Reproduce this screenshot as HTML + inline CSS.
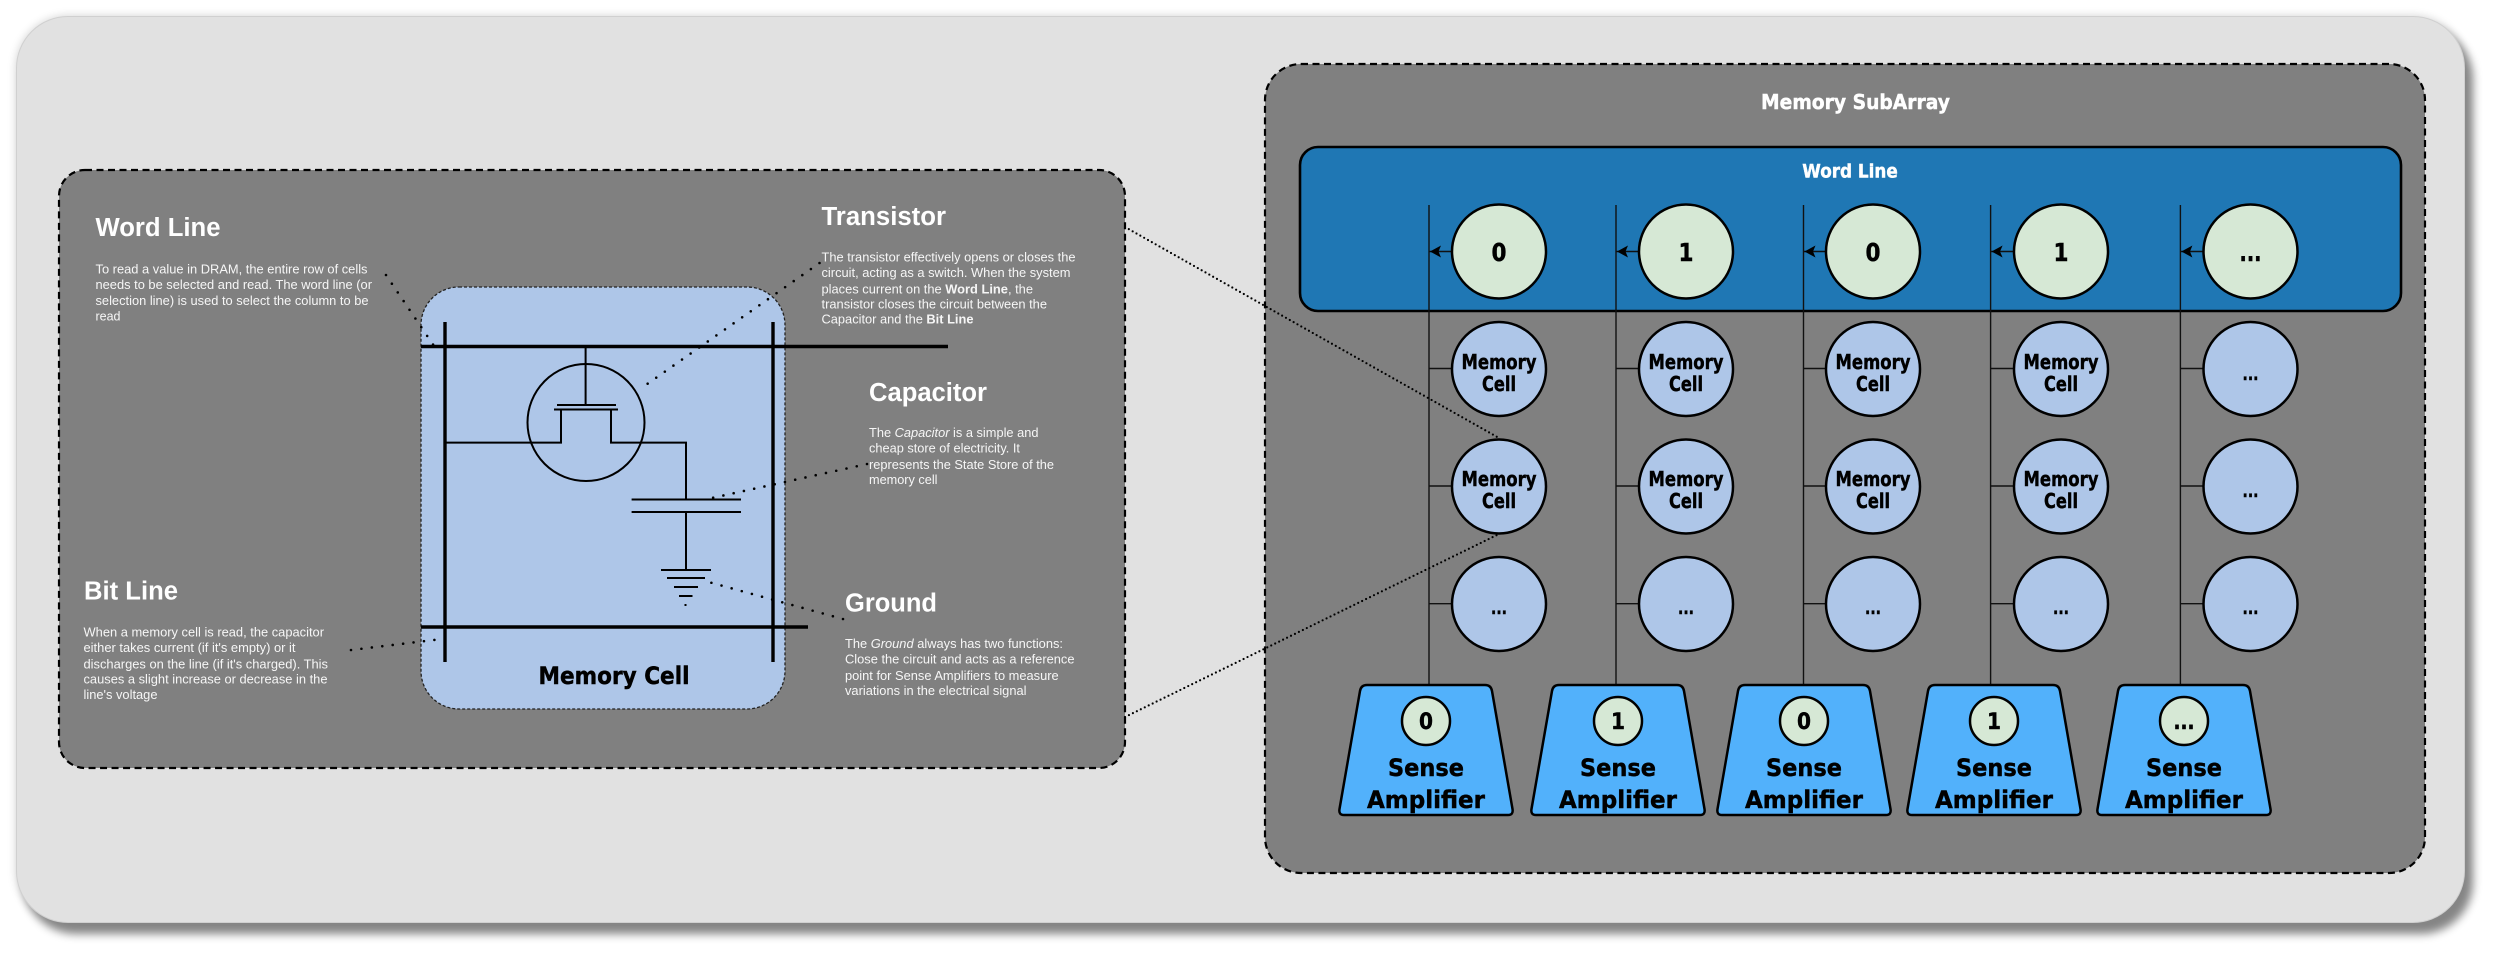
<!DOCTYPE html>
<html><head><meta charset="utf-8"><style>
html,body{margin:0;padding:0;background:#fff;width:2500px;height:957px;overflow:hidden}
#o{position:absolute;left:16px;top:16px;width:2447px;height:905px;border-radius:52px;background:#e1e1e1;border:1px solid #d0d0d0;box-sizing:content-box;box-shadow:8px 11px 9px #858585,0 0 9px rgba(0,0,0,.18)}
svg{position:absolute;left:0;top:0}
.t{font:bold 25.5px "Liberation Sans",sans-serif;fill:#fff}
.b{font:13px "Liberation Sans",sans-serif;fill:#f6f6f6}
.d{font-family:"DejaVu Sans",sans-serif;font-weight:bold;fill:#000;text-anchor:middle;stroke:#000;stroke-width:.45}
.d.w{fill:#fff;stroke:#fff}
.m{font-size:20px}.n{font-size:25px}.e{font-size:18px}.s{font-size:22px}.a{font-size:24px}
.c{fill:#aec6e8;stroke:#000;stroke-width:2.5}
.g{fill:#d6e8d5;stroke:#000;stroke-width:2.5}
.l{stroke:#000;fill:none}
.h{stroke:#111;stroke-width:1.4;fill:none}
.p{stroke:#000;fill:none;stroke-width:2.6;stroke-dasharray:0 10.5;stroke-linecap:round}
.q{stroke:#000;fill:none;stroke-width:2.2;stroke-dasharray:0 4.4;stroke-linecap:round}
.tz{fill:#52b1fb;stroke:#000;stroke-width:2.5}
</style></head><body><div id="o"></div>
<svg width="2500" height="957" viewBox="0 0 2500 957" xmlns="http://www.w3.org/2000/svg">
<!-- left panel -->
<rect x="59" y="170" width="1066" height="598" rx="26" fill="#808080" stroke="#000" stroke-width="2.2" stroke-dasharray="7 4.5"/>
<rect x="421" y="287" width="364" height="422" rx="38" fill="#aec6e8" stroke="#222" stroke-width="1.3" stroke-dasharray="3 2"/>
<g class="l">
<path d="M421 346.5H948M421 627H808" stroke-width="3.4"/>
<path d="M445 322V662M773 322V662" stroke-width="3.4"/>
<circle cx="586" cy="422.5" r="58.5" stroke-width="2"/>
<path d="M585.6 346V405M557 405H616M554 409.5H618M445 442.6H561V409.5M611 409.5V442.6H686V499.5M686 512V570" stroke-width="2"/>
<path d="M631.6 499.5H741M631.6 512H741M661 570H711M667 578H705M674 587H698M679 596H692.5M684.5 605H686.5" stroke-width="2"/>
</g>
<path class="p" d="M386 275L434 346"/>
<path class="p" d="M351 650L437 639.6"/>
<path class="p" d="M819.5 263L641.5 388"/>
<path class="p" d="M867 464L709 498.6"/>
<path class="p" d="M843 619L705 581"/>
<text class="d" x="614" y="684" font-size="24" textLength="151" lengthAdjust="spacingAndGlyphs">Memory Cell</text>

<text class="t" x="95.5" y="236" textLength="125" lengthAdjust="spacingAndGlyphs">Word Line</text>
<text class="b" x="95.5" y="273.5" textLength="272" lengthAdjust="spacingAndGlyphs">To read a value in DRAM, the entire row of cells</text>
<text class="b" x="95.5" y="288.8" textLength="276.5" lengthAdjust="spacingAndGlyphs">needs to be selected and read. The word line (or</text>
<text class="b" x="95.5" y="305" textLength="273" lengthAdjust="spacingAndGlyphs">selection line) is used to select the column to be</text>
<text class="b" x="95.5" y="320.3" textLength="25" lengthAdjust="spacingAndGlyphs">read</text>

<text class="t" x="84" y="599.4" textLength="94" lengthAdjust="spacingAndGlyphs">Bit Line</text>
<text class="b" x="83.5" y="636.7" textLength="240.5" lengthAdjust="spacingAndGlyphs">When a memory cell is read, the capacitor</text>
<text class="b" x="83.5" y="652" textLength="212" lengthAdjust="spacingAndGlyphs">either takes current (if it's empty) or it</text>
<text class="b" x="83.5" y="668.5" textLength="244.5" lengthAdjust="spacingAndGlyphs">discharges on the line (if it's charged). This</text>
<text class="b" x="83.5" y="683.5" textLength="244" lengthAdjust="spacingAndGlyphs">causes a slight increase or decrease in the</text>
<text class="b" x="83.5" y="699" textLength="74" lengthAdjust="spacingAndGlyphs">line's voltage</text>

<text class="t" x="821.5" y="225" textLength="124.5" lengthAdjust="spacingAndGlyphs">Transistor</text>
<text class="b" x="821.5" y="261.5" textLength="254" lengthAdjust="spacingAndGlyphs">The transistor effectively opens or closes the</text>
<text class="b" x="821.5" y="277" textLength="249" lengthAdjust="spacingAndGlyphs">circuit, acting as a switch. When the system</text>
<text class="b" x="821.5" y="293.4" textLength="211.5" lengthAdjust="spacingAndGlyphs">places current on the <tspan font-weight="bold">Word Line</tspan>, the</text>
<text class="b" x="821.5" y="308.5" textLength="225.5" lengthAdjust="spacingAndGlyphs">transistor closes the circuit between the</text>
<text class="b" x="821.5" y="323.7" textLength="152" lengthAdjust="spacingAndGlyphs">Capacitor and the <tspan font-weight="bold">Bit Line</tspan></text>

<text class="t" x="869" y="400.8" textLength="118" lengthAdjust="spacingAndGlyphs">Capacitor</text>
<text class="b" x="869" y="437" textLength="169.5" lengthAdjust="spacingAndGlyphs">The <tspan font-style="italic">Capacitor</tspan> is a simple and</text>
<text class="b" x="869" y="452.6" textLength="151" lengthAdjust="spacingAndGlyphs">cheap store of electricity. It</text>
<text class="b" x="869" y="468.8" textLength="185" lengthAdjust="spacingAndGlyphs">represents the State Store of the</text>
<text class="b" x="869" y="484" textLength="68.5" lengthAdjust="spacingAndGlyphs">memory cell</text>

<text class="t" x="845" y="611.4" textLength="92" lengthAdjust="spacingAndGlyphs">Ground</text>
<text class="b" x="845" y="648" textLength="218" lengthAdjust="spacingAndGlyphs">The <tspan font-style="italic">Ground</tspan> always has two functions:</text>
<text class="b" x="845" y="663.6" textLength="229.5" lengthAdjust="spacingAndGlyphs">Close the circuit and acts as a reference</text>
<text class="b" x="845" y="680" textLength="213.7" lengthAdjust="spacingAndGlyphs">point for Sense Amplifiers to measure</text>
<text class="b" x="845" y="695" textLength="181.5" lengthAdjust="spacingAndGlyphs">variations in the electrical signal</text>

<!-- right panel -->
<rect x="1265" y="64" width="1160" height="809" rx="36" fill="#808080" stroke="#000" stroke-width="2.2" stroke-dasharray="7 4.5"/>
<text class="d w" x="1855.5" y="109" font-size="20" textLength="189" lengthAdjust="spacingAndGlyphs">Memory SubArray</text>
<rect x="1300" y="147" width="1101" height="164" rx="18" fill="#1f77b4" stroke="#000" stroke-width="2.6"/>
<text class="d w" x="1850" y="177.7" font-size="19" textLength="95.5" lengthAdjust="spacingAndGlyphs">Word Line</text>

<g class="h">
<path d="M1429 205V685M1616 205V685M1803.5 205V685M1990.6 205V685M2180.4 205V685"/>
<path d="M1429 251.5H1452M1616 251.5H1639M1803.5 251.5H1826M1990.6 251.5H2014M2180.4 251.5H2204"/>
<path d="M1429 368.5H1452M1616 368.5H1639M1803.5 368.5H1826M1990.6 368.5H2014M2180.4 368.5H2204"/>
<path d="M1429 486H1452M1616 486H1639M1803.5 486H1826M1990.6 486H2014M2180.4 486H2204"/>
<path d="M1429 603.7H1452M1616 603.7H1639M1803.5 603.7H1826M1990.6 603.7H2014M2180.4 603.7H2204"/>
</g>
<path d="M1430 251.5L1441 245.5L1438.5 251.5L1441 257.5ZM1617 251.5L1628 245.5L1625.5 251.5L1628 257.5ZM1804.5 251.5L1815.5 245.5L1813 251.5L1815.5 257.5ZM1991.6 251.5L2002.6 245.5L2000 251.5L2002.6 257.5ZM2181.4 251.5L2192.4 245.5L2190 251.5L2192.4 257.5Z" fill="#000"/>

<!-- column 1 -->
<g transform="translate(1499 0)">
<circle class="g" cy="251.5" r="47"/><text class="d n" y="261" textLength="15" lengthAdjust="spacingAndGlyphs">0</text>
<circle class="c" cy="369" r="47"/><text class="d m" y="369" textLength="75" lengthAdjust="spacingAndGlyphs">Memory</text><text class="d m" y="391" textLength="34" lengthAdjust="spacingAndGlyphs">Cell</text>
<circle class="c" cy="486.5" r="47"/><text class="d m" y="486" textLength="75" lengthAdjust="spacingAndGlyphs">Memory</text><text class="d m" y="508" textLength="34" lengthAdjust="spacingAndGlyphs">Cell</text>
<circle class="c" cy="604" r="47"/><text class="d e" y="614" textLength="16" lengthAdjust="spacingAndGlyphs">...</text>
</g>
<!-- column 2 -->
<g transform="translate(1686 0)">
<circle class="g" cy="251.5" r="47"/><text class="d n" y="261" textLength="15" lengthAdjust="spacingAndGlyphs">1</text>
<circle class="c" cy="369" r="47"/><text class="d m" y="369" textLength="75" lengthAdjust="spacingAndGlyphs">Memory</text><text class="d m" y="391" textLength="34" lengthAdjust="spacingAndGlyphs">Cell</text>
<circle class="c" cy="486.5" r="47"/><text class="d m" y="486" textLength="75" lengthAdjust="spacingAndGlyphs">Memory</text><text class="d m" y="508" textLength="34" lengthAdjust="spacingAndGlyphs">Cell</text>
<circle class="c" cy="604" r="47"/><text class="d e" y="614" textLength="16" lengthAdjust="spacingAndGlyphs">...</text>
</g>
<!-- column 3 -->
<g transform="translate(1873 0)">
<circle class="g" cy="251.5" r="47"/><text class="d n" y="261" textLength="15" lengthAdjust="spacingAndGlyphs">0</text>
<circle class="c" cy="369" r="47"/><text class="d m" y="369" textLength="75" lengthAdjust="spacingAndGlyphs">Memory</text><text class="d m" y="391" textLength="34" lengthAdjust="spacingAndGlyphs">Cell</text>
<circle class="c" cy="486.5" r="47"/><text class="d m" y="486" textLength="75" lengthAdjust="spacingAndGlyphs">Memory</text><text class="d m" y="508" textLength="34" lengthAdjust="spacingAndGlyphs">Cell</text>
<circle class="c" cy="604" r="47"/><text class="d e" y="614" textLength="16" lengthAdjust="spacingAndGlyphs">...</text>
</g>
<!-- column 4 -->
<g transform="translate(2061 0)">
<circle class="g" cy="251.5" r="47"/><text class="d n" y="261" textLength="15" lengthAdjust="spacingAndGlyphs">1</text>
<circle class="c" cy="369" r="47"/><text class="d m" y="369" textLength="75" lengthAdjust="spacingAndGlyphs">Memory</text><text class="d m" y="391" textLength="34" lengthAdjust="spacingAndGlyphs">Cell</text>
<circle class="c" cy="486.5" r="47"/><text class="d m" y="486" textLength="75" lengthAdjust="spacingAndGlyphs">Memory</text><text class="d m" y="508" textLength="34" lengthAdjust="spacingAndGlyphs">Cell</text>
<circle class="c" cy="604" r="47"/><text class="d e" y="614" textLength="16" lengthAdjust="spacingAndGlyphs">...</text>
</g>
<!-- column 5 -->
<g transform="translate(2250.5 0)">
<circle class="g" cy="251.5" r="47"/><text class="d n" y="261" textLength="22" lengthAdjust="spacingAndGlyphs">...</text>
<circle class="c" cy="369" r="47"/><text class="d e" y="380" textLength="16" lengthAdjust="spacingAndGlyphs">...</text>
<circle class="c" cy="486.5" r="47"/><text class="d e" y="497" textLength="16" lengthAdjust="spacingAndGlyphs">...</text>
<circle class="c" cy="604" r="47"/><text class="d e" y="614" textLength="16" lengthAdjust="spacingAndGlyphs">...</text>
</g>

<!-- sense amplifiers -->
<g transform="translate(1426 0)">
<path class="tz" d="M-59 685H59Q65 685 66 691L86.5 809Q87.5 815 82 815H-82Q-87.5 815 -86.5 809L-66 691Q-65 685 -59 685Z"/>
<circle class="g" cy="721" r="24"/><text class="d s" y="729" textLength="14" lengthAdjust="spacingAndGlyphs">0</text>
<text class="d a" y="776" textLength="76" lengthAdjust="spacingAndGlyphs">Sense</text><text class="d a" y="808" textLength="118" lengthAdjust="spacingAndGlyphs">Amplifier</text>
</g>
<g transform="translate(1618 0)">
<path class="tz" d="M-59 685H59Q65 685 66 691L86.5 809Q87.5 815 82 815H-82Q-87.5 815 -86.5 809L-66 691Q-65 685 -59 685Z"/>
<circle class="g" cy="721" r="24"/><text class="d s" y="729" textLength="14" lengthAdjust="spacingAndGlyphs">1</text>
<text class="d a" y="776" textLength="76" lengthAdjust="spacingAndGlyphs">Sense</text><text class="d a" y="808" textLength="118" lengthAdjust="spacingAndGlyphs">Amplifier</text>
</g>
<g transform="translate(1804 0)">
<path class="tz" d="M-59 685H59Q65 685 66 691L86.5 809Q87.5 815 82 815H-82Q-87.5 815 -86.5 809L-66 691Q-65 685 -59 685Z"/>
<circle class="g" cy="721" r="24"/><text class="d s" y="729" textLength="14" lengthAdjust="spacingAndGlyphs">0</text>
<text class="d a" y="776" textLength="76" lengthAdjust="spacingAndGlyphs">Sense</text><text class="d a" y="808" textLength="118" lengthAdjust="spacingAndGlyphs">Amplifier</text>
</g>
<g transform="translate(1994 0)">
<path class="tz" d="M-59 685H59Q65 685 66 691L86.5 809Q87.5 815 82 815H-82Q-87.5 815 -86.5 809L-66 691Q-65 685 -59 685Z"/>
<circle class="g" cy="721" r="24"/><text class="d s" y="729" textLength="14" lengthAdjust="spacingAndGlyphs">1</text>
<text class="d a" y="776" textLength="76" lengthAdjust="spacingAndGlyphs">Sense</text><text class="d a" y="808" textLength="118" lengthAdjust="spacingAndGlyphs">Amplifier</text>
</g>
<g transform="translate(2184 0)">
<path class="tz" d="M-59 685H59Q65 685 66 691L86.5 809Q87.5 815 82 815H-82Q-87.5 815 -86.5 809L-66 691Q-65 685 -59 685Z"/>
<circle class="g" cy="721" r="24"/><text class="d s" y="729" textLength="21" lengthAdjust="spacingAndGlyphs">...</text>
<text class="d a" y="776" textLength="76" lengthAdjust="spacingAndGlyphs">Sense</text><text class="d a" y="808" textLength="118" lengthAdjust="spacingAndGlyphs">Amplifier</text>
</g>

<!-- zoom connectors -->
<path class="q" d="M1125 227L1499 438"/>
<path class="q" d="M1125 717L1499 534"/>
</svg>
</body></html>
